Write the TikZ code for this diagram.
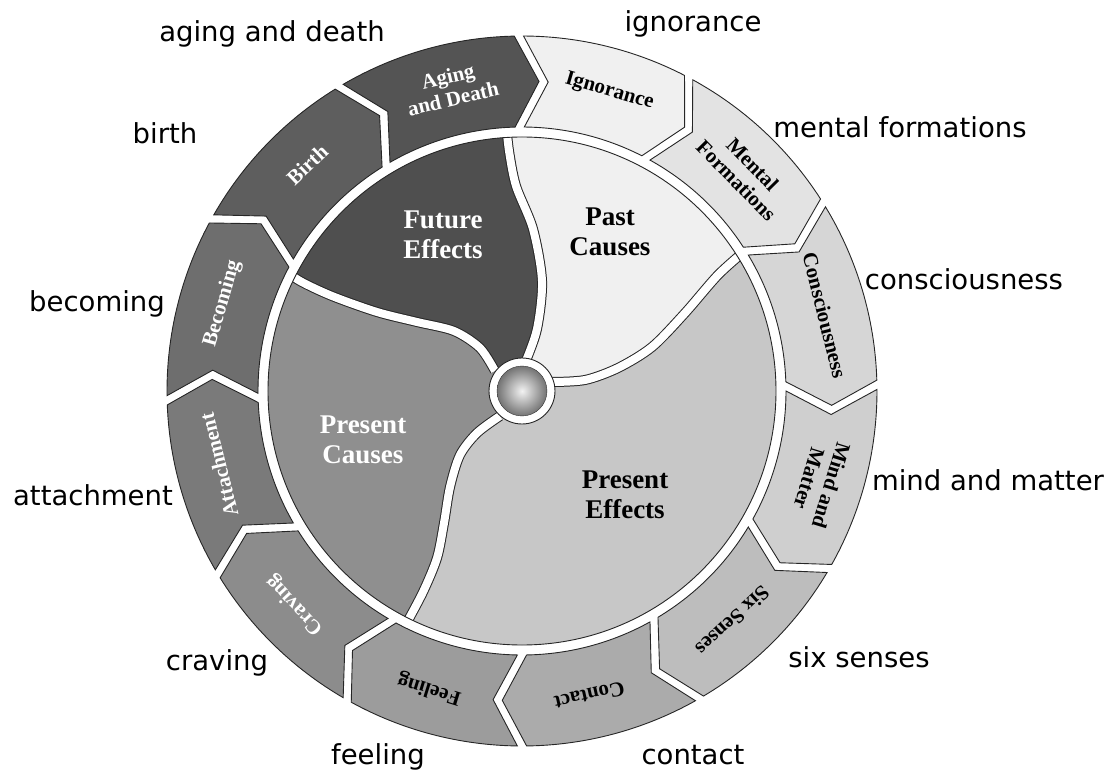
\documentclass[tikz,border=0pt]{standalone}
\usepackage{fontspec}
\setmainfont{DejaVu Sans}
\newfontfamily\linkfont{Liberation Serif}

\tikzset{
  link label/.style={font=\fontsize{27.5}{33}\selectfont, anchor=base, inner sep=0pt},
  seg label/.style={font=\fontsize{21}{23}\selectfont\linkfont\bfseries, align=center, inner sep=0pt},
  core label/.style={font=\fontsize{27}{30}\selectfont\linkfont\bfseries, align=center, inner sep=0pt},
  segment/.style={draw=black!85, line width=0.9pt},
  divider/.style={draw=black!85, line width=1pt, double=white, double distance=8pt},
}

\begin{document}
\begin{tikzpicture}[x=1pt,y=1pt]
\useasboundingbox (-522,-380) rectangle (594,391);

% Outer ring: twelve links, each pointing clockwise
\foreach \a/\b/\col/\txt/\tcol [count=\i] in {
  90.5/62/black!6/Ignorance/black,
  62/32/black!11/Mental\\Formations/black,
  32/1/black!16/Consciousness/black,
  1/-30/black!19/Mind and\\Matter/black,
  -30/-60/black!26/Six Senses/black,
  -60/-90/black!33/Contact/black,
  -90/-119.5/black!39/Feeling/black,
  -119.5/-149/black!45/Craving/white,
  -149/-178.5/black!52/Attachment/white,
  -178.5/-209/black!57/Becoming/white,
  -209/-239/black!63/Birth/white,
  -239/-269.5/black!67/Aging\\and Death/white}{
  \pgfmathsetmacro{\m}{(\a+\b)/2-2.5}
  \fill[\col, segment] ({\a-0.75}:355) arc[start angle=\a-0.75, end angle=\b+0.75, radius=355]
    -- ({\b+0.85-4.5}:310) -- ({\b+1}:264)
    arc[start angle=\b+1, end angle=\a-1, radius=264]
    -- ({\a-0.85-4.5}:310) -- cycle;
  \node[seg label, text=\tcol, rotate=\m-90] (seg\i) at (\m:312) {\txt};
}

% Core: the four periods, split by S-curves
\foreach \n/\x/\y in {a0/3/28, a1/15/62, a2/20/110, a3/11/162, a4/-6/205, a5/-13/240, a6/-16/268,
  b0/-27/20, b1/-42/43, b2/-68/60, b3/-105/69, b4/-145/79, b5/-190/95, b6/-222/110, b7/-240/123,
  c0/29/9, c1/63/11, c2/96/23, c3/130/44, c4/163/78, c5/196/116, c6/224/141,
  d0/-22/-25, d1/-45/-42, d2/-62/-64, d3/-72/-96, d4/-78/-132, d5/-85/-167, d6/-99/-201, d7/-117/-235}
  \coordinate (\n) at (\x,\y);

\fill[black!22] (0,0) circle (254);
\begin{scope}
  \clip (0,0) circle (254);
  \fill[black!69] (0,0) -- plot[smooth] coordinates {(a0) (a1) (a2) (a3) (a4) (a5) (a6)}
    -- (95:420) -- (125:420) -- (150:420)
    -- plot[smooth] coordinates {(b7) (b6) (b5) (b4) (b3) (b2) (b1) (b0)} -- cycle;
  \fill[black!44] (0,0) -- plot[smooth] coordinates {(b0) (b1) (b2) (b3) (b4) (b5) (b6) (b7)}
    -- (155:420) -- (200:420) -- (240:420)
    -- plot[smooth] coordinates {(d7) (d6) (d5) (d4) (d3) (d2) (d1) (d0)} -- cycle;
  \fill[black!6] (0,0) -- plot[smooth] coordinates {(c0) (c1) (c2) (c3) (c4) (c5) (c6)}
    -- (35:420) -- (60:420) -- (90:420)
    -- plot[smooth] coordinates {(a6) (a5) (a4) (a3) (a2) (a1) (a0)} -- cycle;
  % dividers
  \draw[divider] plot[smooth] coordinates {(a0) (a1) (a2) (a3) (a4) (a5) (a6)};
  \draw[divider] plot[smooth] coordinates {(b0) (b1) (b2) (b3) (b4) (b5) (b6) (b7)};
  \draw[divider] plot[smooth] coordinates {(c0) (c1) (c2) (c3) (c4) (c5) (c6)};
  \draw[divider] plot[smooth] coordinates {(d0) (d1) (d2) (d3) (d4) (d5) (d6) (d7)};
\end{scope}
\draw[black!85, line width=0.9pt] (0,0) circle (254);

% Hub
\fill[white, draw=black!85, line width=0.9pt] (0,0) circle (33);
\shadedraw[inner color=black!5, outer color=black!55, draw=black!80] (0,0) circle (25);

\node[core label, text=white] (future) at (-79,156) {Future\\Effects};
\node[core label] (past) at (88,159) {Past\\Causes};
\node[core label, text=white] (prescause) at (-159,-49) {Present\\Causes};
\node[core label] (preseffect) at (103,-104) {Present\\Effects};

% Names of the twelve links
\node[link label] (l-ignorance) at (171,359) {ignorance};
\node[link label] (l-mental) at (378,253) {mental formations};
\node[link label] (l-conscious) at (442,101) {consciousness};
\node[link label] (l-mind) at (466,-99) {mind and matter};
\node[link label] (l-senses) at (337,-276) {six senses};
\node[link label] (l-contact) at (171,-373) {contact};
\node[link label] (l-feeling) at (-144,-373) {feeling};
\node[link label] (l-craving) at (-305,-279) {craving};
\node[link label] (l-attach) at (-429,-114) {attachment};
\node[link label] (l-becoming) at (-425,79) {becoming};
\node[link label] (l-birth) at (-357,247) {birth};
\node[link label] (l-aging) at (-250,349) {aging and death};
\end{tikzpicture}
\end{document}
